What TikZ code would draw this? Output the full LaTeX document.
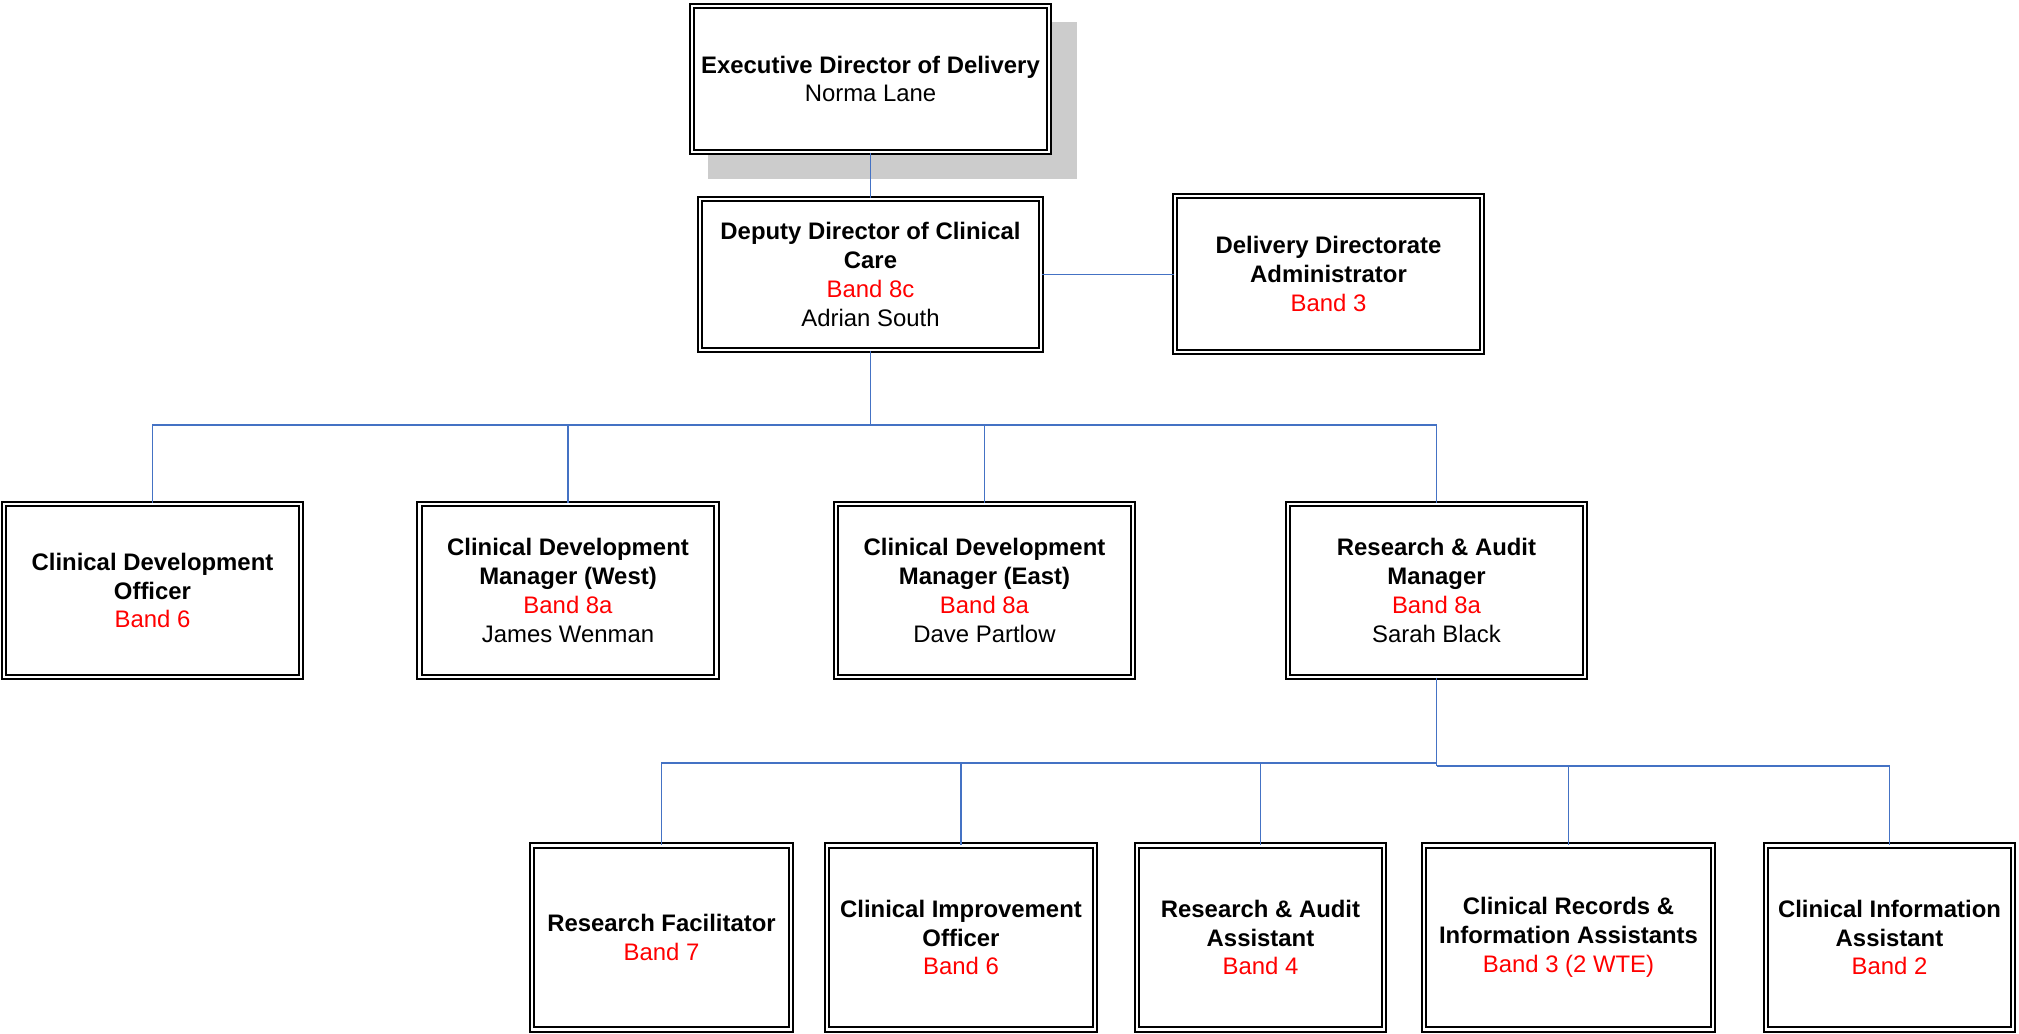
\documentclass[tikz,border=0pt]{standalone}
\usepackage{fontspec}
\setmainfont{Liberation Sans}
\usetikzlibrary{backgrounds}
\definecolor{linkblue}{RGB}{68,114,196}
\definecolor{shadowgray}{RGB}{204,204,204}
\newcommand{\bandtxt}[1]{\textcolor{red}{#1}}

\begin{document}
\begin{tikzpicture}[x=0.02cm, y=-0.02cm,
		rolebox/.style 2 args = {draw, double, line width = 1pt, double distance = 1.6pt, fill = white,
			align = center, inner sep = 0pt, minimum width = #1, minimum height = #2,
			font = \fontsize{13.6}{16.4}\selectfont},
		orgline/.style = {draw = linkblue, line width = 1.1pt}]
		\useasboundingbox (0, 0) rectangle (2019, 1034);

		% top of the chart
		\node [rolebox = {7.14cm}{2.92cm}] (exec) at (870.5, 79) {\textbf{Executive Director of Delivery}\\Norma Lane};
		\node [rolebox = {6.82cm}{3.02cm}] (deputy) at (870.5, 274.5) {\textbf{Deputy Director of Clinical}\\\textbf{Care}\\\bandtxt{Band 8c}\\Adrian South};
		\node [rolebox = {6.14cm}{3.12cm}] (admin) at (1328.5, 274) {\textbf{Delivery Directorate}\\\textbf{Administrator}\\\bandtxt{Band 3}};

		\begin{scope}[on background layer]
			\fill [shadowgray] ([shift = {(17, 17)}]exec.north west) rectangle ([shift = {(27, 26)}]exec.south east);
		\end{scope}

		% managers
		\node [rolebox = {5.94cm}{3.46cm}] (cdo) at (152.5, 590.5) {\textbf{Clinical Development}\\\textbf{Officer}\\\bandtxt{Band 6}};
		\node [rolebox = {5.94cm}{3.46cm}] (west) at (568, 590.5) {\textbf{Clinical Development}\\\textbf{Manager (West)}\\\bandtxt{Band 8a}\\James Wenman};
		\node [rolebox = {5.94cm}{3.46cm}] (east) at (984.5, 590.5) {\textbf{Clinical Development}\\\textbf{Manager (East)}\\\bandtxt{Band 8a}\\Dave Partlow};
		\node [rolebox = {5.94cm}{3.46cm}] (ram) at (1436.5, 590.5) {\textbf{Research \& Audit}\\\textbf{Manager}\\\bandtxt{Band 8a}\\Sarah Black};

		% research and audit team
		\node [rolebox = {5.18cm}{3.68cm}] (rf) at (661.5, 937.5) {\textbf{Research Facilitator}\\\bandtxt{Band 7}};
		\node [rolebox = {5.36cm}{3.68cm}] (cio) at (961, 937.5) {\textbf{Clinical Improvement}\\\textbf{Officer}\\\bandtxt{Band 6}};
		\node [rolebox = {4.94cm}{3.68cm}] (raa) at (1260.5, 937.5) {\textbf{Research \& Audit}\\\textbf{Assistant}\\\bandtxt{Band 4}};
		\node [rolebox = {5.78cm}{3.68cm}] (cria) at (1568.5, 937.5) {\textbf{Clinical Records \&}\\\textbf{Information Assistants}\\\bandtxt{Band 3 (2 WTE)}};
		\node [rolebox = {4.94cm}{3.68cm}] (cia) at (1889.5, 937.5) {\textbf{Clinical Information}\\\textbf{Assistant}\\\bandtxt{Band 2}};

		\coordinate (busa) at (870.5, 425);
		\coordinate (busl) at (1436.5, 763);
		\coordinate (busr) at (1436.5, 766);

		\draw [orgline] (exec) -- (deputy);
		\draw [orgline] (deputy.east) -- (deputy.east -| admin.west);
		\draw [orgline] (deputy.south) -- (busa);
		\foreach \n in {cdo, west, east, ram}
			\draw [orgline] (\n.north) |- (busa);
		\draw [orgline] (ram.south) -- (busr);
		\foreach \n in {rf, cio, raa}
			\draw [orgline] (\n.north) |- (busl);
		\foreach \n in {cria, cia}
			\draw [orgline] (\n.north) |- (busr);
	\end{tikzpicture}
\end{document}
